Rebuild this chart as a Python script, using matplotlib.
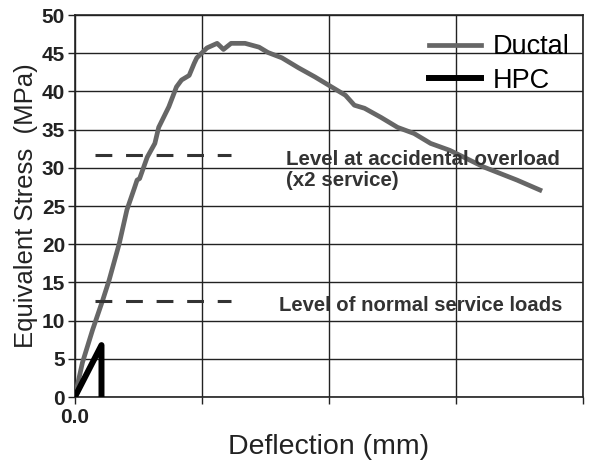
import numpy as np
import matplotlib.pyplot as plt

plt.rcParams['font.family'] = ['Liberation Sans', 'DejaVu Sans']

# Ductal curve (deflection in grid units, stress in MPa)
ductal_x = [0.0, 0.06, 0.14, 0.22, 0.27, 0.35, 0.41, 0.47, 0.49, 0.51, 0.57,
            0.63, 0.66, 0.74, 0.80, 0.84, 0.90, 0.94, 0.96, 1.04, 1.12, 1.17,
            1.23, 1.34, 1.45, 1.52, 1.63, 1.76, 1.89, 2.02, 2.13, 2.20, 2.28,
            2.41, 2.54, 2.67, 2.80, 2.95, 3.22, 3.48, 3.66]
ductal_y = [0.0, 4.5, 8.8, 12.7, 15.3, 20.1, 24.5, 27.4, 28.4, 28.6, 31.4,
            33.2, 35.3, 38.0, 40.6, 41.5, 42.1, 43.7, 44.4, 45.7, 46.3, 45.5,
            46.3, 46.3, 45.8, 45.1, 44.4, 43.1, 41.9, 40.6, 39.5, 38.2, 37.8,
            36.6, 35.3, 34.5, 33.2, 32.3, 30.1, 28.4, 27.1]

# HPC curve
hpc_x = [0.0, 0.21, 0.21]
hpc_y = [0.0, 6.8, 0.0]

# reference levels
overload_level = 31.7
service_level = 12.6
level_x = [0.16, 1.23]

x_ticks = [0, 1, 2, 3, 4]
x_ticklabels = ['0.0', '', '', '', '']
y_ticks = list(range(0, 55, 5))

fig = plt.figure(figsize=(5.89, 4.71), dpi=100)
ax = fig.add_axes([0.127, 0.157, 0.863, 0.811])

ax.plot(ductal_x, ductal_y, color='#666666', lw=3.4, label='Ductal',
        solid_joinstyle='round', zorder=3)
ax.plot(hpc_x, hpc_y, color='black', lw=4.3, label='HPC', zorder=4)

for lev in (overload_level, service_level):
    ax.plot(level_x, [lev, lev], color='#333333', lw=2.2,
            dashes=(5.5, 4.5), zorder=3)

ax.text(1.66, 29.7, 'Level at accidental overload\n(x2 service)',
        fontsize=14.8, fontweight='bold', color='#333333',
        va='center', ha='left', linespacing=1.15)
ax.text(1.61, 12.0, 'Level of normal service loads',
        fontsize=14.6, fontweight='bold', color='#333333',
        va='center', ha='left')

ax.set_xlim(0, 4)
ax.set_ylim(0, 50)
ax.set_xticks(x_ticks)
ax.set_xticklabels(x_ticklabels)
ax.set_yticks(y_ticks)
ax.grid(True, color='#222222', lw=1.0)
ax.set_axisbelow(True)
for side in ('top', 'right', 'left', 'bottom'):
    ax.spines[side].set_color('#222222')
    ax.spines[side].set_linewidth(1.2)
ax.tick_params(axis='both', length=5, width=1, color='#222222',
               labelsize=15, pad=2)
ax.tick_params(axis='x', pad=3)
for lab in ax.get_xticklabels() + ax.get_yticklabels():
    lab.set_fontweight('bold')
    lab.set_color('#222222')

ax.set_xlabel('Deflection (mm)', fontsize=20.5, color='#222222', labelpad=5)
ax.set_ylabel('Equivalent Stress  (MPa)', fontsize=18.5, color='#222222',
              labelpad=3)

ax.legend(loc='upper right', bbox_to_anchor=(1.0, 0.985), frameon=False,
          fontsize=19.5, handlelength=1.9, handletextpad=0.45,
          labelspacing=0.28, borderaxespad=0.1)

fig.savefig('out.png', dpi=100)
